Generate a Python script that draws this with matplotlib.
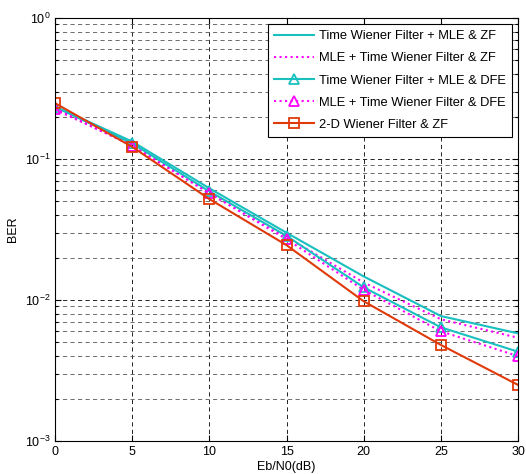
import matplotlib
matplotlib.use("Agg")
from matplotlib import pyplot as plt
from matplotlib.ticker import LogLocator, NullFormatter

# Donnees :
snr = [0, 5, 10, 15, 20, 25, 30]
time_mle_zf = [0.236, 0.133, 0.062, 0.030, 0.0147, 0.0077, 0.0058]
mle_time_zf = [0.224, 0.125, 0.058, 0.028, 0.0133, 0.0073, 0.0054]
time_mle_dfe = [0.234, 0.129, 0.059, 0.0285, 0.0123, 0.0064, 0.0043]
mle_time_dfe = [0.228, 0.124, 0.057, 0.027, 0.0118, 0.0060, 0.0040]
wiener_2d_zf = [0.249, 0.122, 0.052, 0.0245, 0.0098, 0.0048, 0.0025]

labels = ["Time Wiener Filter + MLE & ZF",
          "MLE + Time Wiener Filter & ZF",
          "Time Wiener Filter + MLE & DFE",
          "MLE + Time Wiener Filter & DFE",
          "2-D Wiener Filter & ZF"]

plt.rcParams['font.family'] = ['Liberation Sans', 'DejaVu Sans']
plt.rcParams['mathtext.default'] = 'regular'
plt.rcParams['font.size'] = 9

cyan = '#1ABFBF'
magenta = '#FF00FF'
red = '#E03A0A'

fig = plt.figure(figsize=(5.26, 4.74), dpi=100)
ax = fig.add_axes([0.1046, 0.0696, 0.8802, 0.8924])

ax.plot(snr, time_mle_zf, color=cyan, lw=1.5, label=labels[0])
ax.plot(snr, mle_time_zf, color=magenta, lw=1.5, ls=':', label=labels[1])
ax.plot(snr, time_mle_dfe, color=cyan, lw=1.5, marker='^', ms=7,
        mfc='none', mec=cyan, mew=1.3, label=labels[2])
ax.plot(snr, mle_time_dfe, color=magenta, lw=1.5, ls=':', marker='^', ms=7,
        mfc='none', mec=magenta, mew=1.3, label=labels[3])
ax.plot(snr, wiener_2d_zf, color=red, lw=1.5, marker='s', ms=6.5,
        mfc='none', mec=red, mew=1.3, label=labels[4])

ax.set_yscale('log')
ax.set_xlim(0, 30)
ax.set_ylim(1e-3, 1)
ax.set_xticks([0, 5, 10, 15, 20, 25, 30])
ax.yaxis.set_major_locator(LogLocator(base=10, numticks=10))
ax.yaxis.set_minor_locator(LogLocator(base=10, subs=range(2, 10), numticks=20))
ax.yaxis.set_minor_formatter(NullFormatter())

# grille facon MATLAB :
dash = (0, (5, 4))
ax.grid(True, which='major', axis='both', color='k', lw=0.6, ls=dash)
ax.grid(True, which='minor', axis='y', color='#555555', lw=0.6, ls=dash)
ax.set_axisbelow(True)

ax.tick_params(which='both', direction='in', top=True, right=True,
               labelsize=9, width=0.8)
ax.tick_params(which='major', length=4)
ax.tick_params(which='minor', length=2)
for s in ax.spines.values():
    s.set_linewidth(0.8)

ax.set_xlabel("Eb/N0(dB)", fontsize=9, labelpad=2)
ax.set_ylabel("BER", fontsize=9, labelpad=4)

leg = ax.legend(loc='upper right', fontsize=9.3, fancybox=False,
                framealpha=1, edgecolor='k', borderpad=0.5,
                labelspacing=0.78, handlelength=3.1, handletextpad=0.35,
                borderaxespad=0.45)
leg.get_frame().set_linewidth(0.8)

fig.savefig("out.png", dpi=100)
